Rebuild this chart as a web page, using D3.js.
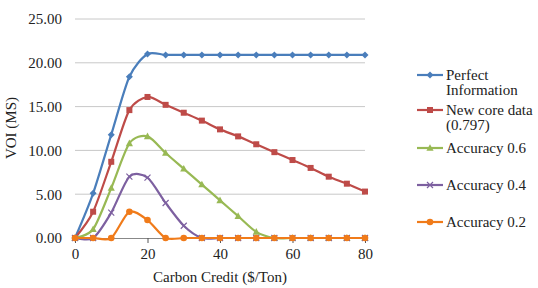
<!DOCTYPE html>
<html>
<head>
<meta charset="utf-8">
<script src="https://cdn.jsdelivr.net/npm/d3@7"></script>
<style>
  body { margin: 0; background: #fff; }
</style>
</head>
<body>
<div id="chart"></div>
<script>
// carbon credit values ($/Ton)
const credits = [0, 5, 10, 15, 20, 25, 30, 35, 40, 45, 50, 55, 60, 65, 70, 75, 80];

const perfectInfo = [0, 5.1, 11.8, 18.4, 21.0, 20.9, 20.9, 20.9, 20.9, 20.9, 20.9, 20.9, 20.9, 20.9, 20.9, 20.9, 20.9];
const newCore = [0, 3.0, 8.7, 14.6, 16.1, 15.2, 14.3, 13.4, 12.4, 11.6, 10.7, 9.8, 8.9, 8.0, 7.0, 6.2, 5.3];
const acc06 = [0, 1.0, 5.7, 10.8, 11.6, 9.7, 7.9, 6.1, 4.3, 2.5, 0.7, 0, 0, 0, 0, 0, 0];
const acc04 = [0, 0, 2.9, 7.0, 6.9, 4.0, 1.4, 0, 0, 0, 0, 0, 0, 0, 0, 0, 0];
const acc02 = [0, 0, 0, 3.0, 2.05, 0, 0, 0, 0, 0, 0, 0, 0, 0, 0, 0, 0];

const seriesNames = [["Perfect", "Information"], ["New core data", "(0.797)"], ["Accuracy 0.6"], ["Accuracy 0.4"], ["Accuracy 0.2"]];
const yTicks = [0, 5, 10, 15, 20, 25];
const xTicks = [0, 20, 40, 60, 80];

const series = [
  { name: seriesNames[0], values: perfectInfo, color: "#4a7ebb", marker: "diamond" },
  { name: seriesNames[1], values: newCore, color: "#be4b48", marker: "square" },
  { name: seriesNames[2], values: acc06, color: "#98b954", marker: "triangle" },
  { name: seriesNames[3], values: acc04, color: "#7d60a0", marker: "cross" },
  { name: seriesNames[4], values: acc02, color: "#f07b1a", marker: "circle" }
];

const FONT = "'Liberation Serif', 'DejaVu Serif', serif";

let margin = { top: 19, right: 173, bottom: 50, left: 75 },
    width = 538 - margin.left - margin.right,
    height = 288 - margin.top - margin.bottom;

let svg = d3.select("#chart")
    .append("svg")
    .attr("width", 538)
    .attr("height", 288);

let g = svg.append("g")
    .attr("transform", "translate(" + margin.left + "," + margin.top + ")");

let x = d3.scaleLinear().domain([0, 80]).range([0, width]);
let y = d3.scaleLinear().domain([0, 25]).range([height, 0]);

// gridlines
g.selectAll(".grid")
    .data(yTicks.filter(d => d > 0))
    .enter()
    .append("line")
    .attr("x1", 0)
    .attr("x2", width)
    .attr("y1", d => y(d))
    .attr("y2", d => y(d))
    .attr("stroke", "#c8c8c8")
    .attr("stroke-width", 1);

// y axis labels
let yAxis = g.append("g")
    .call(d3.axisLeft(y).tickValues(yTicks).tickFormat(d3.format(".2f")).tickSize(0).tickPadding(13));
yAxis.select(".domain").remove();
yAxis.attr("font-family", FONT).attr("font-size", 15);
yAxis.selectAll("text").attr("fill", "#222");

// x axis
let xAxis = g.append("g")
    .attr("transform", "translate(0," + height + ")")
    .call(d3.axisBottom(x).tickValues(xTicks).tickSize(5).tickSizeOuter(0).tickPadding(5));
xAxis.attr("font-family", FONT).attr("font-size", 15);
xAxis.select(".domain").attr("stroke", "#888");
xAxis.selectAll(".tick line").attr("stroke", "#555");
xAxis.selectAll("text").attr("fill", "#222");

// axis titles
svg.append("text")
    .attr("x", margin.left + width / 2)
    .attr("y", 282)
    .attr("text-anchor", "middle")
    .attr("font-family", FONT)
    .attr("font-size", 15)
    .attr("fill", "#222")
    .text("Carbon Credit ($/Ton)");

svg.append("text")
    .attr("transform", "translate(16,128) rotate(-90)")
    .attr("text-anchor", "middle")
    .attr("font-family", FONT)
    .attr("font-size", 15)
    .attr("fill", "#222")
    .text("VOI (MS)");

let line = d3.line()
    .x((d, i) => x(credits[i]))
    .y(d => y(d))
    .curve(d3.curveCardinal.tension(0.2));

function drawMarker(sel, type, color) {
    if (type === "diamond") {
        sel.append("path").attr("d", "M0,-3.5L3.5,0L0,3.5L-3.5,0Z").attr("fill", color);
    } else if (type === "square") {
        sel.append("rect").attr("x", -3).attr("y", -3).attr("width", 6).attr("height", 6).attr("fill", color);
    } else if (type === "triangle") {
        sel.append("path").attr("d", "M0,-3.8L3.6,2.8L-3.6,2.8Z").attr("fill", color);
    } else if (type === "cross") {
        sel.append("path").attr("d", "M-3,-3L3,3M-3,3L3,-3").attr("stroke", color).attr("stroke-width", 1.2);
    } else {
        sel.append("circle").attr("r", 3.3).attr("fill", color);
    }
}

series.forEach(s => {
    g.append("path")
        .datum(s.values)
        .attr("fill", "none")
        .attr("stroke", s.color)
        .attr("stroke-width", 2.2)
        .attr("d", line);

    g.selectAll(null)
        .data(s.values)
        .enter()
        .append("g")
        .attr("transform", (d, i) => "translate(" + x(credits[i]) + "," + y(d) + ")")
        .each(function () { drawMarker(d3.select(this), s.marker, s.color); });
});

// legend
const legendY = [75, 110, 148, 185, 222];
let legend = svg.append("g")
    .attr("font-family", FONT)
    .attr("font-size", 15);
series.forEach((s, i) => {
    let item = legend.append("g").attr("transform", "translate(417," + legendY[i] + ")");
    item.append("line")
        .attr("x1", 0).attr("x2", 26)
        .attr("stroke", s.color).attr("stroke-width", 2.2);
    let m = item.append("g").attr("transform", "translate(13,0)");
    drawMarker(m, s.marker, s.color);
    s.name.forEach((t, j) => {
        item.append("text")
            .attr("x", 29)
            .attr("y", 5 + j * 14.5)
            .attr("fill", "#222")
            .text(t);
    });
});
</script>
</body>
</html>
